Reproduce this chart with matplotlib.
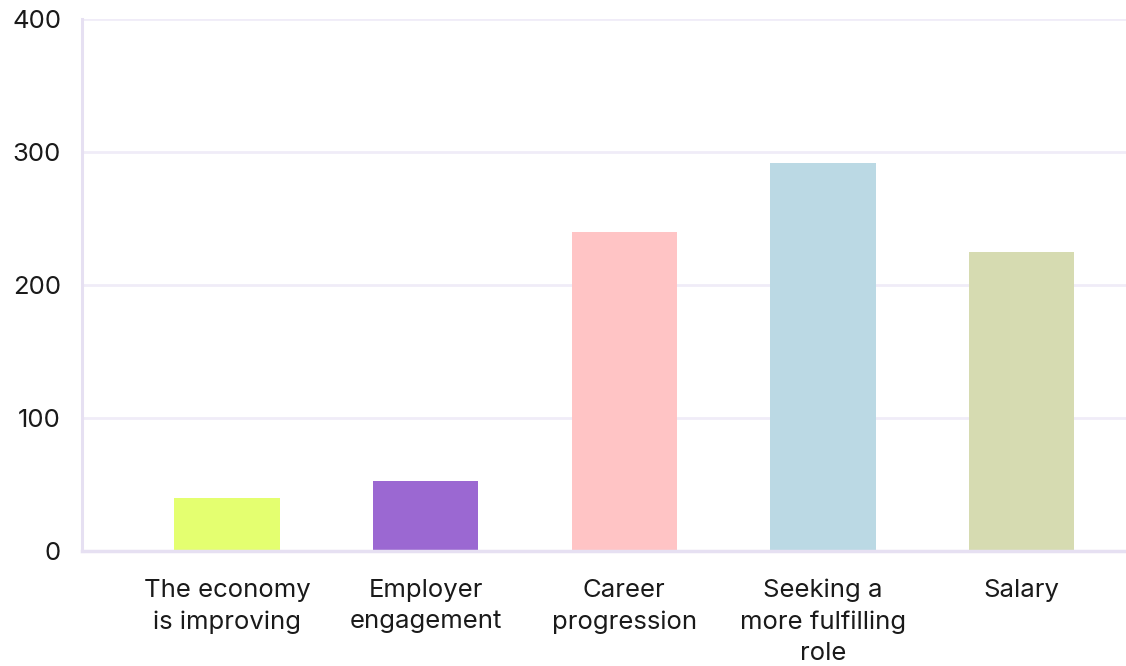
import matplotlib
matplotlib.use("Agg")
import matplotlib.pyplot as plt

categories = ["The economy\nis improving", "Employer\nengagement", "Career\nprogression",
              "Seeking a\nmore fulfilling\nrole", "Salary"]
values = [40, 53, 240, 292, 225]
colors = ["#e4ff70", "#9b68d2", "#ffc4c5", "#bbd9e4", "#d6dbb1"]
yticks = [0, 100, 200, 300, 400]

plt.rcParams["font.family"] = ["Inter", "DejaVu Sans"]

W, H = 1126, 666
fig = plt.figure(figsize=(W / 100, H / 100), dpi=100)
ax = fig.add_axes([82 / W, 1 - 551 / H, 1 - 82 / W, (551 - 19) / H])

x = list(range(len(categories)))
ax.bar(x, values, width=0.53, color=colors, zorder=2)

ax.set_ylim(0, 400)
ax.set_xlim(-0.73, 4.526)
ax.set_yticks(yticks)
ax.set_yticklabels([str(v) for v in yticks], fontsize=18.5, color="#1a1a1a")
ax.set_xticks(x)
ax.set_xticklabels(categories, fontsize=18.5, color="#1a1a1a", linespacing=1.45)
ax.tick_params(axis="both", length=0)
ax.tick_params(axis="y", pad=15)
ax.tick_params(axis="x", pad=20)

ax.grid(axis="y", color="#f0ecf8", linewidth=2, zorder=0)
ax.grid(axis="x", visible=False)
for s in ["top", "right"]:
    ax.spines[s].set_visible(False)
ax.spines["left"].set_color("#e6e0f2")
ax.spines["left"].set_linewidth(2.2)
ax.spines["bottom"].set_color("#e6e0f2")
ax.spines["bottom"].set_linewidth(2.5)
ax.spines["bottom"].set_zorder(3)

fig.savefig("out.png", dpi=100, facecolor="white")
